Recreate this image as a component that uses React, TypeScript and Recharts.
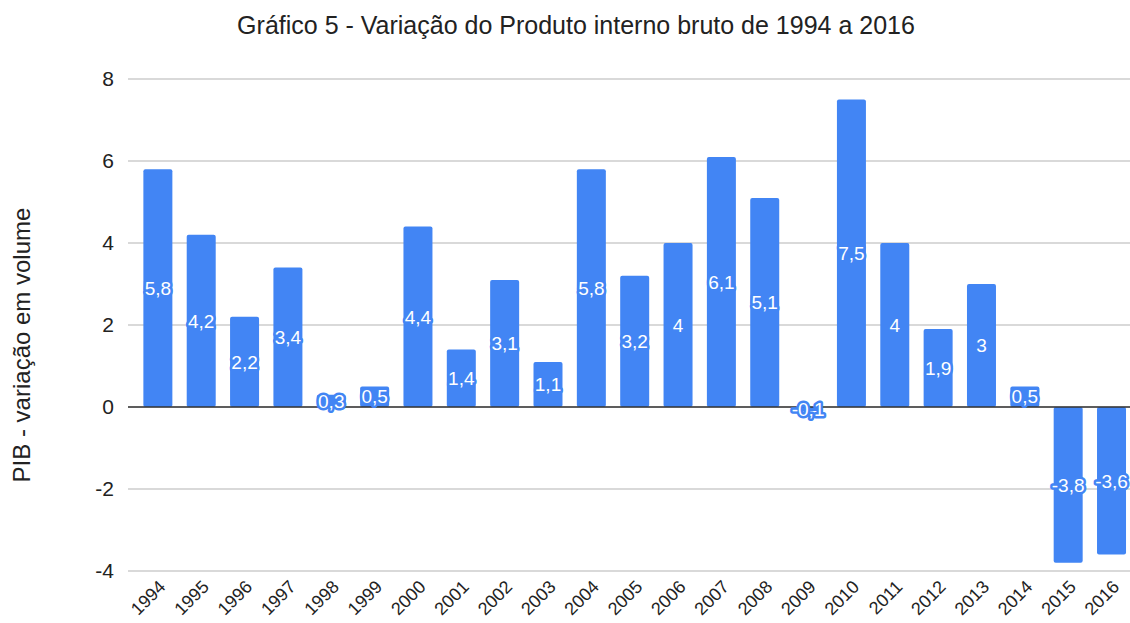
import { BarChart, Bar, XAxis, YAxis, CartesianGrid, ReferenceLine, LabelList } from "recharts";

const years = [
  "1994", "1995", "1996", "1997", "1998", "1999", "2000", "2001", "2002", "2003", "2004", "2005",
  "2006", "2007", "2008", "2009", "2010", "2011", "2012", "2013", "2014", "2015", "2016",
];
const pibVariation = [
  5.8, 4.2, 2.2, 3.4, 0.3, 0.5, 4.4, 1.4, 3.1, 1.1, 5.8, 3.2,
  4, 6.1, 5.1, -0.1, 7.5, 4, 1.9, 3, 0.5, -3.8, -3.6,
];
const yTicks = [-4, -2, 0, 2, 4, 6, 8];

const chartTitle = "Gráfico 5 - Variação do Produto interno bruto de 1994 a 2016";
const yAxisTitle = "PIB - variação em volume";

const data = years.map((year, i) => ({ year, v: pibVariation[i] }));

const FONT = "'Liberation Sans', Arial, sans-serif";
const BLUE = "#4285f4";

const fmt = (v: number) => String(v).replace(".", ",");

// white value label with a blue halo, centred in the bar
function ValueLabel(props: any) {
  const { x, y, width, height, value } = props;
  const cx = Number(x) + Number(width) / 2;
  const cy = Number(y) + Number(height) / 2;
  return (
    <text
      x={cx}
      y={cy}
      dy="0.355em"
      textAnchor="middle"
      fontFamily={FONT}
      fontSize={19}
      fill="#fff"
      stroke={BLUE}
      strokeWidth={5}
      strokeLinejoin="round"
      style={{ paintOrder: "stroke" }}
    >
      {fmt(value)}
    </text>
  );
}

function YearTick(props: any) {
  const { x, y, payload } = props;
  const ax = x + 9;
  const ay = y + 17;
  return (
    <text
      x={ax}
      y={ay}
      textAnchor="end"
      fontFamily={FONT}
      fontSize={18}
      fill="#222"
      transform={`rotate(-45, ${ax}, ${ay})`}
    >
      {payload.value}
    </text>
  );
}

export default function App() {
  return (
    <div
      style={{
        position: "absolute",
        left: 0,
        top: 0,
        width: 1130,
        height: 623,
        overflow: "hidden",
        background: "#fff",
      }}
    >
      <div
        style={{
          position: "absolute",
          top: 11,
          left: 0,
          width: 1152,
          textAlign: "center",
          fontFamily: FONT,
          fontSize: 25,
          color: "#222",
        }}
      >
        {chartTitle}
      </div>
      <div
        style={{
          position: "absolute",
          left: 22,
          top: 345,
          transform: "translate(-50%, -50%) rotate(-90deg)",
          whiteSpace: "nowrap",
          fontFamily: FONT,
          fontSize: 24,
          color: "#222",
        }}
      >
        {yAxisTitle}
      </div>
      <div style={{ position: "absolute", left: 0, top: 0 }}>
        <BarChart
          width={1133}
          height={623}
          data={data}
          margin={{ top: 79, right: 0, bottom: 0, left: 0 }}
          barCategoryGap="17%"
        >
          <CartesianGrid vertical={false} stroke="#cccccc" strokeWidth={1.3} />
          <XAxis
            dataKey="year"
            interval={0}
            height={52}
            axisLine={false}
            tickLine={false}
            tickSize={0}
            tickMargin={0}
            padding={{ left: 8, right: 0 }}
            tick={<YearTick />}
          />
          <YAxis
            width={128}
            domain={[-4, 8]}
            ticks={yTicks}
            axisLine={false}
            tickLine={false}
            tickSize={0}
            tickMargin={14}
            tick={{ fontFamily: FONT, fontSize: 21, fill: "#222" }}
          />
          <ReferenceLine y={0} stroke="#333" strokeWidth={1.6} />
          <Bar dataKey="v" fill={BLUE} radius={2} isAnimationActive={false}>
            <LabelList dataKey="v" content={<ValueLabel />} />
          </Bar>
        </BarChart>
      </div>
    </div>
  );
}
